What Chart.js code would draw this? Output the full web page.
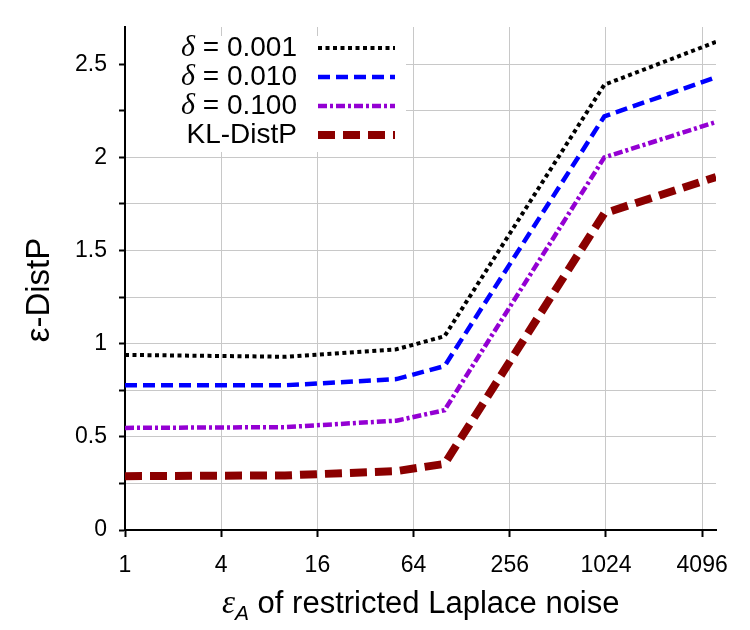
<!DOCTYPE html>
<html>
<head>
<meta charset="utf-8">
<script src="https://cdn.jsdelivr.net/npm/chart.js@4.4.1/dist/chart.umd.min.js"></script>
<style>
  body { margin: 0; background: #fff; }
  canvas { display: block; }
</style>
</head>
<body>
<canvas id="distpChart" width="750" height="630"></canvas>
<script>
// valores
const epsA = [1, 10, 50, 100, 1000, 5000];
const delta001 = [0.94, 0.93, 0.97, 1.04, 2.39, 2.62];
const delta010 = [0.777, 0.777, 0.81, 0.88, 2.22, 2.43];
const delta100 = [0.548, 0.552, 0.587, 0.643, 2.0, 2.19];
const klDistP = [0.289, 0.293, 0.316, 0.355, 1.7, 1.895];
const xTicks = [1, 4, 16, 64, 256, 1024, 4096];
const seriesNames = ["0.001", "0.010", "0.100", "KL-DistP"];

const sans = "'Liberation Sans', Arial, sans-serif";
const serif = "'Liberation Serif', 'Times New Roman', serif";

function toPoints(values) {
  return values.map((v, i) => ({ x: epsA[i], y: v }));
}

// Leyenda propia: texto a la izquierda, linea a la derecha
const legendPlugin = {
  id: "leyenda",
  beforeDatasetsDraw(chart) {
    const ctx = chart.ctx;
    ctx.save();
    ctx.fillStyle = "#fff";
    ctx.fillRect(chart.chartArea.left + 1, 36, 280, 116);
    ctx.restore();
  },
  afterDatasetsDraw(chart) {
    const ctx = chart.ctx;
    const textRight = 297;
    chart.data.datasets.forEach((ds, i) => {
      const rowY = 48 + i * 29;
      ctx.save();
      ctx.fillStyle = "#000";
      ctx.textBaseline = "middle";
      ctx.textAlign = "right";
      if (i < 3) {
        ctx.font = "28px " + sans;
        const rest = " = " + seriesNames[i];
        ctx.fillText(rest, textRight, rowY);
        const w = ctx.measureText(rest).width;
        ctx.font = "italic 30px " + serif;
        ctx.fillText("\u03b4", textRight - w, rowY);
      } else {
        ctx.font = "28px " + sans;
        ctx.fillText(seriesNames[i], textRight, rowY);
      }
      ctx.beginPath();
      ctx.setLineDash(ds.borderDash);
      ctx.lineWidth = ds.borderWidth;
      ctx.strokeStyle = ds.borderColor;
      ctx.lineCap = "butt";
      ctx.moveTo(318, rowY);
      ctx.lineTo(395, rowY);
      ctx.stroke();
      ctx.restore();
    });
  },
  afterDraw(chart) {
    const ctx = chart.ctx;
    ctx.save();
    ctx.fillStyle = "#000";
    // titulo eje x
    ctx.textBaseline = "alphabetic";
    ctx.textAlign = "left";
    let x = 222;
    const base = 613;
    ctx.font = "italic 33px " + serif;
    ctx.fillText("\u03b5", x, base);
    x += ctx.measureText("\u03b5").width;
    ctx.font = "italic 21px " + sans;
    ctx.fillText("A", x, base + 7);
    x += ctx.measureText("A").width;
    ctx.font = "31px " + sans;
    ctx.fillText(" of restricted Laplace noise", x, base);
    // titulo eje y
    ctx.translate(49, 290);
    ctx.rotate(-Math.PI / 2);
    ctx.textAlign = "center";
    ctx.font = "33px " + sans;
    ctx.fillText("\u03b5-DistP", 0, 0);
    ctx.restore();
  }
};

const ctx = document.getElementById("distpChart").getContext("2d");

new Chart(ctx, {
  type: "line",
  data: {
    datasets: [
      {
        label: "δ = 0.001",
        data: toPoints(delta001),
        borderColor: "#000000",
        borderWidth: 4,
        borderDash: [4, 3.5]
      },
      {
        label: "δ = 0.010",
        data: toPoints(delta010),
        borderColor: "#0000ff",
        borderWidth: 4.5,
        borderDash: [12, 6]
      },
      {
        label: "δ = 0.100",
        data: toPoints(delta100),
        borderColor: "#9400d3",
        borderWidth: 4.5,
        borderDash: [9, 3, 3, 3]
      },
      {
        label: "KL-DistP",
        data: toPoints(klDistP),
        borderColor: "#8b0000",
        borderWidth: 8,
        borderDash: [17, 8]
      }
    ]
  },
  options: {
    responsive: false,
    animation: false,
    devicePixelRatio: 1,
    layout: { padding: { top: 27, right: 34, left: 0, bottom: 0 } },
    elements: {
      point: { radius: 0 },
      line: { tension: 0, borderCapStyle: "butt", fill: false }
    },
    plugins: {
      legend: { display: false },
      tooltip: { enabled: false }
    },
    scales: {
      x: {
        type: "logarithmic",
        min: 1,
        max: 5000,
        afterBuildTicks(scale) {
          scale.ticks = xTicks.map(v => ({ value: v }));
        },
        afterFit(scale) {
          scale.height = 100;
        },
        grid: {
          color: "#c8c8c8",
          lineWidth: 1,
          tickLength: 7,
          tickColor: "#000",
          tickWidth: 2
        },
        border: { color: "#000", width: 2 },
        ticks: {
          autoSkip: false,
          maxRotation: 0,
          padding: 15,
          color: "#000",
          font: { family: sans, size: 23 },
          callback: v => String(v)
        }
      },
      y: {
        type: "linear",
        min: 0,
        max: 2.7,
        afterBuildTicks(scale) {
          const t = [];
          for (let v = 0; v <= 2.5001; v += 0.25) t.push({ value: Math.round(v * 100) / 100 });
          scale.ticks = t;
        },
        afterFit(scale) {
          scale.width = 125;
        },
        grid: {
          color: "#c8c8c8",
          lineWidth: 1,
          tickLength: 6,
          tickColor: "#000",
          tickWidth: 2
        },
        border: { color: "#000", width: 2 },
        ticks: {
          padding: 12,
          color: "#000",
          font: { family: sans, size: 23 },
          callback: v => (Math.abs(v * 2 - Math.round(v * 2)) < 1e-6 ? String(v) : "")
        }
      }
    }
  },
  plugins: [legendPlugin]
});
</script>
</body>
</html>
